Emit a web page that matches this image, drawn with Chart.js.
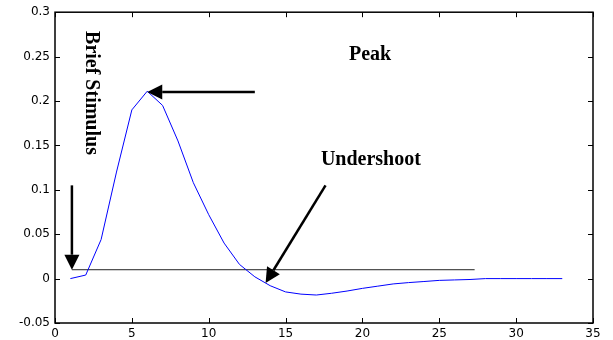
<!DOCTYPE html>
<html>
<head>
<meta charset="utf-8">
<script src="https://cdn.jsdelivr.net/npm/chart.js@4"></script>
<style>
  html, body { margin: 0; padding: 0; background: #fff; }
  #wrap { width: 613px; height: 340px; }
</style>
</head>
<body>
<div id="wrap"><canvas id="hrf"></canvas></div>
<script>
// ── DATA ─────────────────────────────────────────────────────────────────────
const timeSteps = [1, 2, 3, 4, 5, 6, 7, 8, 9, 10, 11, 12, 13, 14, 15, 16, 17,
  18, 19, 20, 21, 22, 23, 24, 25, 26, 27, 28, 29, 30, 31, 32, 33];
const response = [0, 0.004, 0.044, 0.12, 0.19, 0.211, 0.195, 0.155, 0.108, 0.072,
  0.04, 0.016, 0.002, -0.008, -0.015, -0.0175, -0.0185, -0.0165, -0.014, -0.011,
  -0.0085, -0.006, -0.0045, -0.0033, -0.002, -0.0015, -0.001, 0, 0, 0, 0, 0, 0];

// baseline drawn from the stimulus onset
const baselineX = [1.1, 27.3];
const baselineY = [0.01, 0.01];

// arrows: stimulus, peak, undershoot (tail -> head)
const arrowFromX = [1.1, 13.0, 17.6];
const arrowFromY = [0.105, 0.21, 0.105];
const arrowToX = [1.1, 6.0, 13.7];
const arrowToY = [0.01, 0.21, -0.005];

const noteText = ['Brief Stimulus', 'Peak', 'Undershoot'];
const noteX = [2.35, 20.5, 20.55];
const noteY = [0.209, 0.252, 0.134];
const noteRot = [Math.PI / 2, 0, 0];

const xTickStep = 5;
const yTickStep = 0.05;

// ── FRAME + ANNOTATIONS ──────────────────────────────────────────────────────
const boxPlugin = {
  id: 'box',
  afterDatasetsDraw(chart) {
    const { ctx, chartArea: a, scales: { x, y } } = chart;
    ctx.save();
    ctx.strokeStyle = '#000';
    ctx.lineWidth = 1.5;
    ctx.strokeRect(a.left, a.top, a.right - a.left, a.bottom - a.top);

    // inward ticks on all four sides
    ctx.lineWidth = 1;
    ctx.beginPath();
    x.ticks.forEach(t => {
      const px = Math.round(x.getPixelForValue(t.value)) + 0.5;
      ctx.moveTo(px, a.bottom); ctx.lineTo(px, a.bottom - 5);
      ctx.moveTo(px, a.top); ctx.lineTo(px, a.top + 5);
    });
    y.ticks.forEach(t => {
      const py = Math.round(y.getPixelForValue(t.value)) + 0.5;
      ctx.moveTo(a.left, py); ctx.lineTo(a.left + 5, py);
      ctx.moveTo(a.right, py); ctx.lineTo(a.right - 5, py);
    });
    ctx.stroke();

    // arrows
    ctx.fillStyle = '#000';
    ctx.lineWidth = 2.5;
    for (let i = 0; i < arrowFromX.length; i++) {
      const x0 = x.getPixelForValue(arrowFromX[i]), y0 = y.getPixelForValue(arrowFromY[i]);
      const x1 = x.getPixelForValue(arrowToX[i]), y1 = y.getPixelForValue(arrowToY[i]);
      const ang = Math.atan2(y1 - y0, x1 - x0);
      const len = 15, half = 7.5;
      const bx = x1 - len * Math.cos(ang), by = y1 - len * Math.sin(ang);
      ctx.beginPath();
      ctx.moveTo(x0, y0); ctx.lineTo(bx, by);
      ctx.stroke();
      ctx.beginPath();
      ctx.moveTo(x1, y1);
      ctx.lineTo(bx + half * Math.sin(ang), by - half * Math.cos(ang));
      ctx.lineTo(bx - half * Math.sin(ang), by + half * Math.cos(ang));
      ctx.closePath();
      ctx.fill();
    }

    // text notes
    ctx.font = 'bold 20px "Liberation Serif", "Times New Roman", serif';
    ctx.textAlign = 'center';
    ctx.textBaseline = 'middle';
    noteText.forEach((s, i) => {
      ctx.save();
      ctx.translate(x.getPixelForValue(noteX[i]), y.getPixelForValue(noteY[i]));
      ctx.rotate(noteRot[i]);
      ctx.fillText(s, 0, 0);
      ctx.restore();
    });
    ctx.restore();
  }
};

// ── CHART ────────────────────────────────────────────────────────────────────
const tickFont = { family: '"DejaVu Sans", sans-serif', size: 12 };

new Chart(document.getElementById('hrf'), {
  type: 'line',
  data: {
    datasets: [
      {
        data: timeSteps.map((t, i) => ({ x: t, y: response[i] })),
        borderColor: '#0000ff', borderWidth: 1, pointRadius: 0, tension: 0
      },
      {
        data: baselineX.map((t, i) => ({ x: t, y: baselineY[i] })),
        borderColor: '#222', borderWidth: 1, pointRadius: 0
      }
    ]
  },
  options: {
    responsive: true, maintainAspectRatio: false, animation: false,
    layout: { padding: { top: 11, right: 20, left: 0, bottom: 0 } },
    plugins: { legend: { display: false }, tooltip: { enabled: false } },
    scales: {
      x: {
        type: 'linear', min: 0, max: 35,
        grid: { display: false, drawTicks: false }, border: { display: false },
        ticks: { stepSize: xTickStep, color: '#000', font: tickFont, padding: 4, maxRotation: 0 },
        afterFit: s => { s.height = 17; }
      },
      y: {
        min: -0.05, max: 0.3,
        grid: { display: false, drawTicks: false }, border: { display: false },
        ticks: {
          stepSize: yTickStep, color: '#000', font: tickFont, padding: 5,
          callback: v => String(parseFloat(v.toFixed(2)))
        },
        afterFit: s => { s.width = 55; }
      }
    }
  },
  plugins: [boxPlugin]
});
</script>
</body>
</html>
